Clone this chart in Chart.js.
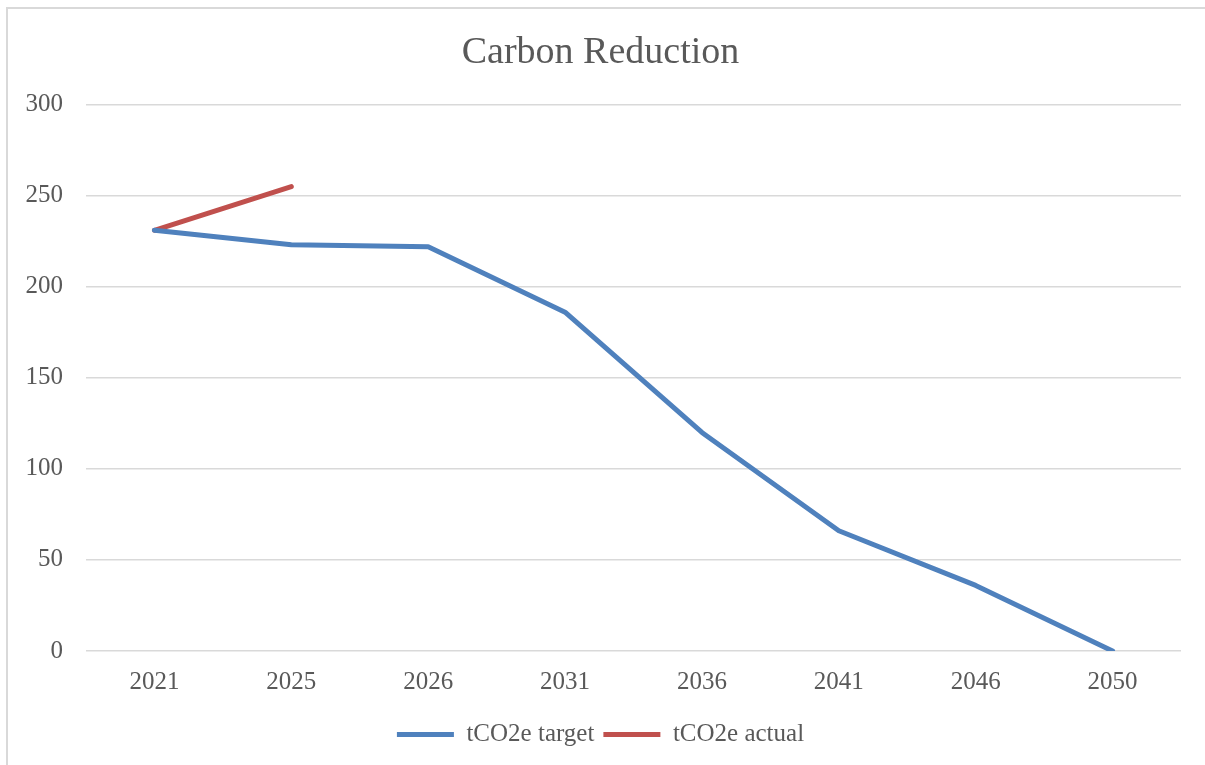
<!DOCTYPE html>
<html>
<head>
<meta charset="utf-8">
<script src="https://cdn.jsdelivr.net/npm/chart.js@4/dist/chart.umd.min.js"></script>
<style>
  html, body { margin: 0; padding: 0; background: #ffffff; overflow: hidden; }
  #wrap { position: absolute; left: 0; top: 0; width: 1205px; height: 765px; }
  #frame { position: absolute; left: 6px; top: 7px; width: 1300px; height: 900px;
           border-left: 2px solid #d9d9d9; border-top: 2px solid #d9d9d9; pointer-events: none; }
</style>
</head>
<body>
<div id="wrap"><canvas id="c" width="1205" height="765"></canvas></div>
<div id="frame"></div>
<script>
const categories = ['2021', '2025', '2026', '2031', '2036', '2041', '2046', '2050'];
const targetValues = [231, 223, 222, 186, 120, 66, 36, 0];
const actualValues = [231, 255, null, null, null, null, null, null];
const seriesNames = ['tCO2e target', 'tCO2e actual'];
const chartTitle = 'Carbon Reduction';

const FONT = "'Liberation Serif', 'Times New Roman', serif";
const TEXT = '#595959';

new Chart(document.getElementById('c'), {
  type: 'line',
  data: {
    labels: categories,
    datasets: [
      { label: seriesNames[0], data: targetValues, borderColor: '#4f81bd', backgroundColor: '#4f81bd',
        borderWidth: 5, pointRadius: 0, borderCapStyle: 'round', borderJoinStyle: 'round', tension: 0 },
      { label: seriesNames[1], data: actualValues, borderColor: '#c0504d', backgroundColor: '#c0504d',
        borderWidth: 5, pointRadius: 0, borderCapStyle: 'round', borderJoinStyle: 'round', tension: 0 }
    ]
  },
  options: {
    responsive: false,
    animation: false,
    layout: { padding: { left: 20, right: 24, top: 10, bottom: 8 } },
    plugins: {
      title: { display: true, text: chartTitle, color: TEXT,
               font: { family: FONT, size: 38, weight: 'normal' }, padding: { top: 20, bottom: 29 } },
      legend: { position: 'bottom',
        labels: { color: TEXT, font: { family: FONT, size: 25 }, usePointStyle: true, pointStyle: 'line',
                  pointStyleWidth: 57, padding: 9 } },
      tooltip: { enabled: false }
    },
    scales: {
      x: {
        offset: true,
        grid: { display: false, drawTicks: false, offset: true },
        border: { display: false },
        ticks: { color: TEXT, font: { family: FONT, size: 25, lineHeight: 0.08 }, padding: 30, maxRotation: 0 }
      },
      y: {
        min: 0, max: 300,
        afterFit: (s) => { s.width = 66; },
        grid: { color: '#d9d9d9', lineWidth: 1.5, drawTicks: false },
        border: { display: false },
        ticks: { stepSize: 50, color: TEXT, font: { family: FONT, size: 25 }, padding: 23 }
      }
    }
  }
});
</script>
</body>
</html>
